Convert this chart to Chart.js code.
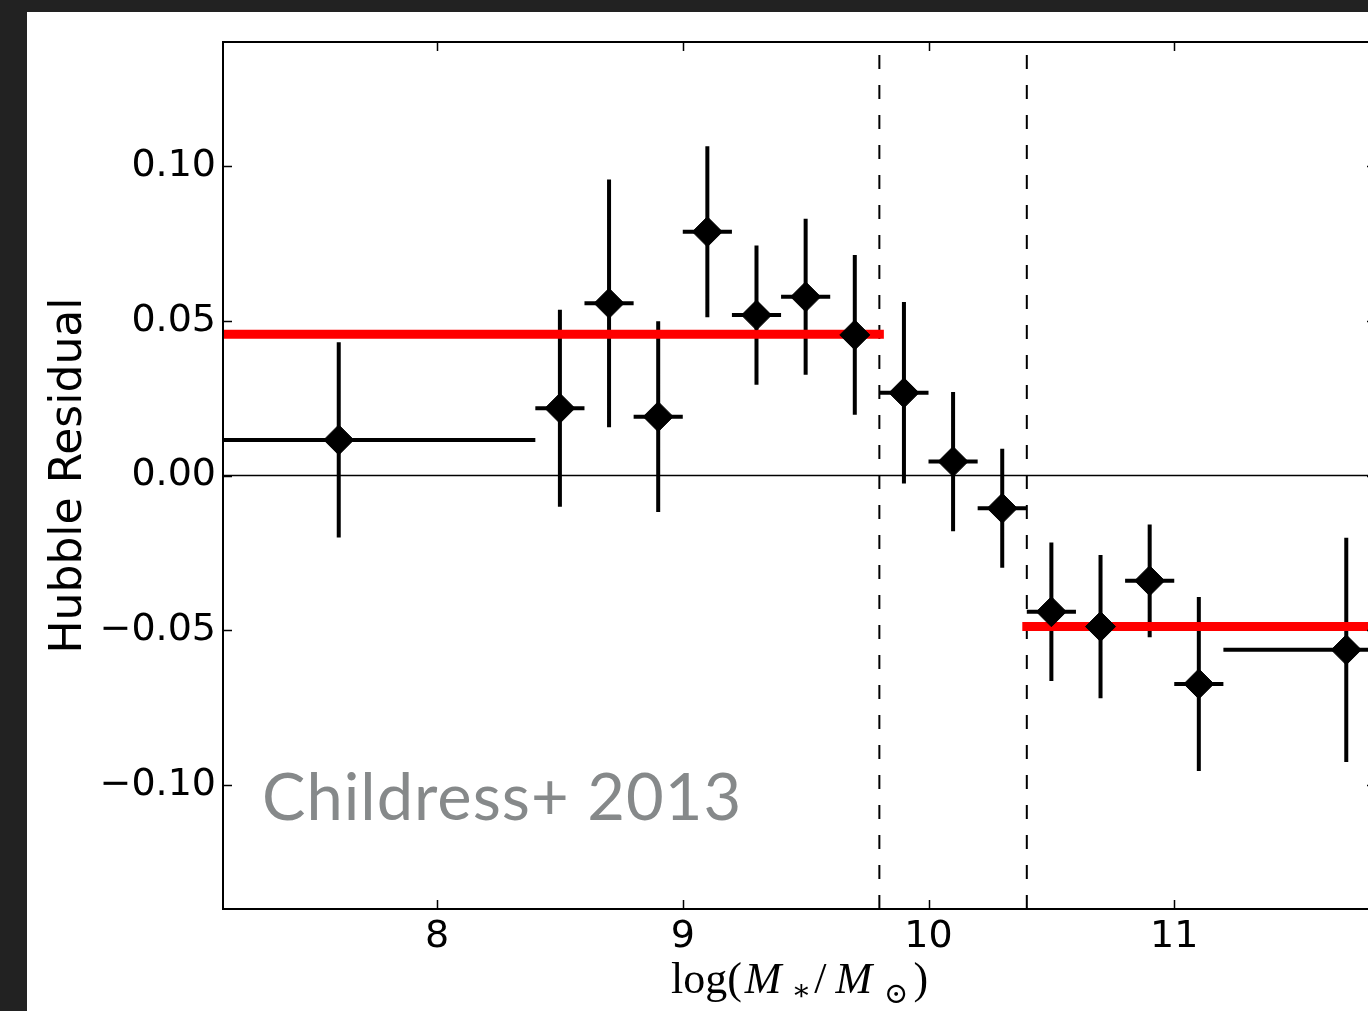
<!DOCTYPE html>
<html lang="en">
<head>
    <meta charset="UTF-8">
    <title>Hubble Residual vs Host Mass</title>
    <script src="https://cdn.jsdelivr.net/npm/chart.js"></script>
    <style>
        html, body { margin: 0; padding: 0; background: #222222; overflow: hidden; width: 1368px; height: 1011px; }
        .panel { position: absolute; left: 27px; top: 12px; width: 1400px; height: 999px; background: #ffffff; }
        canvas { display: block; }
    </style>
</head>
<body>
    <div class="panel">
        <canvas id="residualChart" width="1400" height="999"></canvas>
    </div>

    <script>
        // binned host-galaxy mass (log M*/Msun) and mean Hubble residual per bin
        const massBins    = [7.6, 8.5, 8.7, 8.9, 9.1, 9.3, 9.5, 9.7, 9.9, 10.1, 10.3, 10.5, 10.7, 10.9, 11.1, 11.7];
        const residuals   = [0.0115, 0.0217, 0.0556, 0.0190, 0.0787, 0.0518, 0.0577, 0.0454, 0.0267, 0.0045, -0.0106, -0.0440, -0.0488, -0.0340, -0.0673, -0.0563];
        const residualErr = [0.0315, 0.0318, 0.0400, 0.0308, 0.0276, 0.0225, 0.0252, 0.0258, 0.0293, 0.0225, 0.0192, 0.0224, 0.0231, 0.0182, 0.0281, 0.0362];
        const massErrLow  = [0.8, 0.1, 0.1, 0.1, 0.1, 0.1, 0.1, 0.1, 0.1, 0.1, 0.1, 0.1, 0.1, 0.1, 0.1, 0.5];
        const massErrHigh = [0.8, 0.1, 0.1, 0.1, 0.1, 0.1, 0.1, 0.1, 0.1, 0.1, 0.1, 0.1, 0.1, 0.1, 0.1, 0.5];

        // mass step: mean residual below / above the transition region
        const stepEdges = [9.8, 10.4];
        const stepMeans = [0.0456, -0.0488];

        const xTicks = [8, 9, 10, 11];
        const yTicks = [-0.10, -0.05, 0.00, 0.05, 0.10];
        const xRange = [7.129, 11.821];
        const yRange = [-0.14, 0.14];

        const yTitle = 'Hubble Residual';
        // math-style x label, drawn piece by piece (gap = extra space after the piece)
        const xTitleParts = [
            { text: 'log(', italic: false, sub: 0, gap: 3 },
            { text: 'M', italic: true, sub: 0, gap: 10 },
            { text: '\u2217', italic: false, sub: 7, gap: 3 },
            { text: '/', italic: false, sub: 0, gap: 9 },
            { text: 'M', italic: true, sub: 0, gap: 12 },
            { text: '\u2299', italic: false, sub: 10, gap: 5 },
            { text: ')', italic: false, sub: 0, gap: 0 }
        ];
        const sourceLabel = 'Childress+ 2013';

        // error bars as broken line segments (null y splits them)
        const errorSegments = [];
        massBins.forEach((m, i) => {
            const r = residuals[i];
            errorSegments.push({ x: m, y: r - residualErr[i] }, { x: m, y: r + residualErr[i] }, { x: m, y: null });
            errorSegments.push({ x: m - massErrLow[i], y: r }, { x: m + massErrHigh[i], y: r }, { x: m, y: null });
        });

        const points = massBins.map((m, i) => ({ x: m, y: residuals[i] }));

        const lineDefaults = { type: 'line', showLine: true, pointRadius: 0, pointHoverRadius: 0, tension: 0, fill: false, clip: 0 };

        // frame, inward ticks, mixed-style x title and source label
        const framePlugin = {
            id: 'frame',
            afterDraw(chart) {
                const { ctx, chartArea: a, scales } = chart;
                ctx.save();
                ctx.strokeStyle = '#000';
                ctx.lineWidth = 2;
                ctx.strokeRect(a.left, a.top, a.right - a.left, a.bottom - a.top);

                ctx.lineWidth = 1.5;
                ctx.beginPath();
                xTicks.forEach(v => {
                    const px = Math.round(scales.x.getPixelForValue(v)) + 0.5;
                    ctx.moveTo(px, a.bottom); ctx.lineTo(px, a.bottom - 9);
                    ctx.moveTo(px, a.top); ctx.lineTo(px, a.top + 9);
                });
                yTicks.forEach(v => {
                    const py = Math.round(scales.y.getPixelForValue(v)) + 0.5;
                    ctx.moveTo(a.left, py); ctx.lineTo(a.left + 9, py);
                    ctx.moveTo(a.right, py); ctx.lineTo(a.right - 9, py);
                });
                ctx.stroke();

                // x axis title: log(M_*/M_sun)
                const big = 44, small = 29;
                const fontFor = p => (p.italic ? 'italic ' : '') + (p.sub ? small : big) + 'px "Liberation Serif", "DejaVu Serif", serif';
                let total = 0;
                const widths = xTitleParts.map(p => { ctx.font = fontFor(p); const w = ctx.measureText(p.text).width + p.gap; total += w; return w; });
                let x = (a.left + a.right) / 2 - total / 2;
                const base = a.bottom + 84;
                ctx.fillStyle = '#000';
                ctx.textBaseline = 'alphabetic';
                ctx.textAlign = 'left';
                xTitleParts.forEach((p, i) => {
                    ctx.font = fontFor(p);
                    ctx.fillText(p.text, x, base + p.sub);
                    x += widths[i];
                });

                ctx.font = '65px Lato, "Open Sans", sans-serif';
                ctx.letterSpacing = '1px';
                ctx.fillStyle = '#86898a';
                ctx.fillText(sourceLabel, a.left + 39, a.bottom - 89);
                ctx.letterSpacing = '0px';
                ctx.restore();
            }
        };

        new Chart(document.getElementById('residualChart').getContext('2d'), {
            type: 'scatter',
            data: {
                datasets: [
                    {
                        ...lineDefaults,
                        data: [{ x: 6, y: 0 }, { x: 13, y: 0 }],
                        borderColor: '#000', borderWidth: 1.5, order: 4
                    },
                    {
                        ...lineDefaults,
                        data: [{ x: stepEdges[0], y: yRange[0] }, { x: stepEdges[0], y: yRange[1] }],
                        borderColor: '#000', borderWidth: 2, borderDash: [14, 16], order: 4
                    },
                    {
                        ...lineDefaults,
                        data: [{ x: stepEdges[1], y: yRange[0] }, { x: stepEdges[1], y: yRange[1] }],
                        borderColor: '#000', borderWidth: 2, borderDash: [14, 16], order: 4
                    },
                    {
                        ...lineDefaults,
                        data: errorSegments,
                        spanGaps: false,
                        borderColor: '#000', borderWidth: 4, borderCapStyle: 'butt', order: 3
                    },
                    {
                        ...lineDefaults,
                        data: [{ x: 6, y: stepMeans[0] }, { x: stepEdges[0], y: stepMeans[0] }],
                        borderColor: '#ff0000', borderWidth: 9, borderCapStyle: 'square', order: 2
                    },
                    {
                        ...lineDefaults,
                        data: [{ x: stepEdges[1], y: stepMeans[1] }, { x: 13, y: stepMeans[1] }],
                        borderColor: '#ff0000', borderWidth: 9, borderCapStyle: 'square', order: 2
                    },
                    {
                        data: points,
                        pointStyle: 'rectRot',
                        pointRadius: 15,
                        pointHoverRadius: 15,
                        backgroundColor: '#000',
                        borderColor: '#000',
                        borderWidth: 1,
                        order: 1
                    }
                ]
            },
            options: {
                responsive: false,
                animation: false,
                devicePixelRatio: 1,
                events: [],
                layout: { padding: { top: 30, right: 51, bottom: 0, left: 0 } },
                plugins: { legend: { display: false }, tooltip: { enabled: false } },
                scales: {
                    x: {
                        type: 'linear',
                        min: xRange[0], max: xRange[1],
                        afterBuildTicks: s => { s.ticks = xTicks.map(v => ({ value: v })); },
                        afterFit: s => { s.height = 102; },
                        grid: { display: false, drawTicks: false },
                        border: { display: false },
                        ticks: {
                            autoSkip: false, maxRotation: 0, padding: 5,
                            color: '#000',
                            font: { family: 'DejaVu Sans', size: 38 },
                            callback: v => String(v)
                        }
                    },
                    y: {
                        type: 'linear',
                        min: yRange[0], max: yRange[1],
                        afterBuildTicks: s => { s.ticks = yTicks.map(v => ({ value: v })); },
                        afterFit: s => { s.width = 196; },
                        grid: { display: false, drawTicks: false },
                        border: { display: false },
                        ticks: {
                            autoSkip: false, padding: 7,
                            color: '#000',
                            font: { family: 'DejaVu Sans', size: 38 },
                            callback: v => v.toFixed(2).replace('-', '\u2212')
                        },
                        title: {
                            display: true,
                            text: yTitle,
                            color: '#000',
                            font: { family: 'DejaVu Sans', size: 44 },
                            padding: { top: 16, bottom: 0 }
                        }
                    }
                }
            },
            plugins: [framePlugin]
        });
    </script>
</body>
</html>
